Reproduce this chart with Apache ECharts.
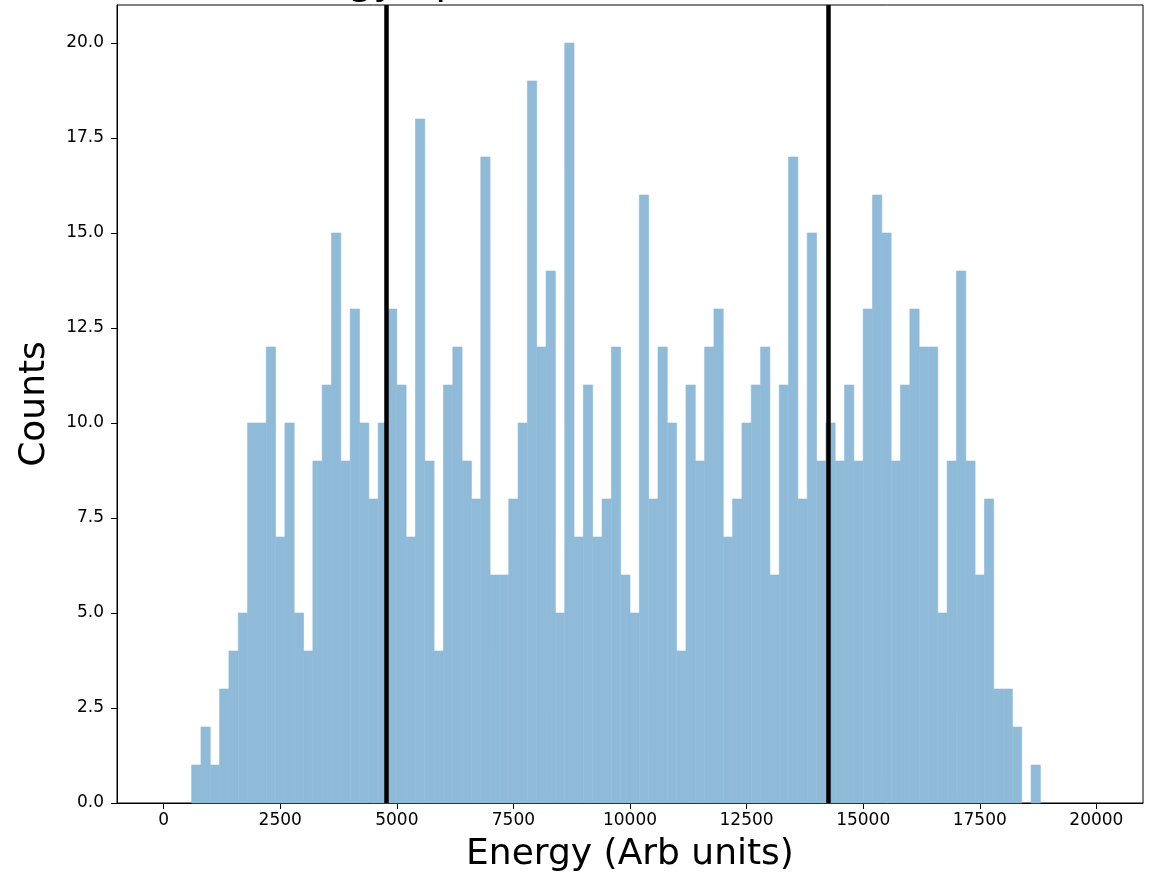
<!DOCTYPE html>
<html>
<head>
    <meta charset="utf-8">
    <title>Energy spectrum</title>
    <script src="https://cdn.jsdelivr.net/npm/echarts@6/dist/echarts.min.js"></script>
    <style>
        html, body { margin: 0; padding: 0; background: #fff; }
        #chart { width: 1153px; height: 879px; }
    </style>
</head>
<body>
<div id="chart"></div>
<script>
    // histogram: 100 bins of 200 from 0 to 20000
    var binStart = 0;
    var binWidth = 200;
    var counts = [
        0, 0, 0, 1, 2, 1, 3, 4, 5, 10,
        10, 12, 7, 10, 5, 4, 9, 11, 15, 9,
        13, 10, 8, 10, 13, 11, 7, 18, 9, 4,
        11, 12, 9, 8, 17, 6, 6, 8, 10, 19,
        12, 14, 5, 20, 7, 11, 7, 8, 12, 6,
        5, 16, 8, 12, 10, 4, 11, 9, 12, 13,
        7, 8, 10, 11, 12, 6, 11, 17, 8, 15,
        9, 10, 9, 11, 9, 13, 16, 15, 9, 11,
        13, 12, 12, 5, 9, 14, 9, 6, 8, 3,
        3, 2, 0, 1, 0, 0, 0, 0, 0, 0
    ];
    // the two black cut lines
    var cutLines = [4775, 14250];
    var xTicks = [0, 2500, 5000, 7500, 10000, 12500, 15000, 17500, 20000];

    var histData = counts.map(function (c, i) {
        return [binStart + i * binWidth, binStart + (i + 1) * binWidth, c];
    });

    var font = 'DejaVu Sans';
    var barColor = '#8fbbd9';
    var chart = echarts.init(document.getElementById('chart'), null, { renderer: 'canvas' });

    var option = {
        animation: false,
        backgroundColor: '#fff',
        title: {
            text: 'Energy Spectrum',
            left: 252,
            top: -42,
            textStyle: { fontFamily: font, fontSize: 40, fontWeight: 'normal', color: '#000' }
        },
        grid: {
            left: 117, right: 10, top: 5, bottom: 76,
            show: true, borderColor: '#000', borderWidth: 1,
            outerBoundsMode: 'none'
        },
        xAxis: {
            type: 'value',
            min: -1000,
            max: 21000,
            name: 'Energy (Arb units)',
            nameLocation: 'middle',
            nameGap: 34,
            nameTextStyle: { fontFamily: font, fontSize: 36, color: '#000' },
            axisLine: { show: true, onZero: false, lineStyle: { color: '#000', width: 1 } },
            axisTick: { show: true, length: 6, customValues: xTicks, lineStyle: { color: '#000' } },
            axisLabel: {
                customValues: xTicks, margin: 9,
                fontFamily: font, fontSize: 17, color: '#000',
                formatter: function (v) { return String(v); }
            },
            splitLine: { show: false }
        },
        yAxis: {
            type: 'value',
            min: 0,
            max: 21,
            interval: 2.5,
            name: 'Counts',
            nameLocation: 'middle',
            nameGap: 64,
            nameTextStyle: { fontFamily: font, fontSize: 36, color: '#000' },
            axisLine: { show: true, onZero: false, lineStyle: { color: '#000', width: 1 } },
            axisTick: { show: true, length: 6, lineStyle: { color: '#000' } },
            axisLabel: {
                margin: 13, fontFamily: font, fontSize: 17, color: '#000',
                showMaxLabel: false,
                formatter: function (v) { return v.toFixed(1); }
            },
            splitLine: { show: false }
        },
        series: [
            {
                type: 'custom',
                name: 'counts',
                data: histData,
                encode: { x: [0, 1], y: 2 },
                renderItem: function (params, api) {
                    if (!api.value(2)) return null; // empty bin
                    var p0 = api.coord([api.value(0), api.value(2)]);
                    var p1 = api.coord([api.value(1), 0]);
                    return {
                        type: 'rect',
                        shape: { x: p0[0], y: p0[1], width: p1[0] - p0[0], height: p1[1] - p0[1] },
                        style: { fill: barColor, stroke: barColor, lineWidth: 0.6 }
                    };
                }
            },
            {
                type: 'line',
                name: 'cuts',
                data: [],
                z: 5,
                markLine: {
                    silent: true,
                    symbol: ['none', 'none'],
                    label: { show: false },
                    lineStyle: { color: '#000', width: 4.5, type: 'solid' },
                    data: cutLines.map(function (x) { return { xAxis: x }; })
                }
            }
        ]
    };
    chart.setOption(option);
</script>
</body>
</html>
